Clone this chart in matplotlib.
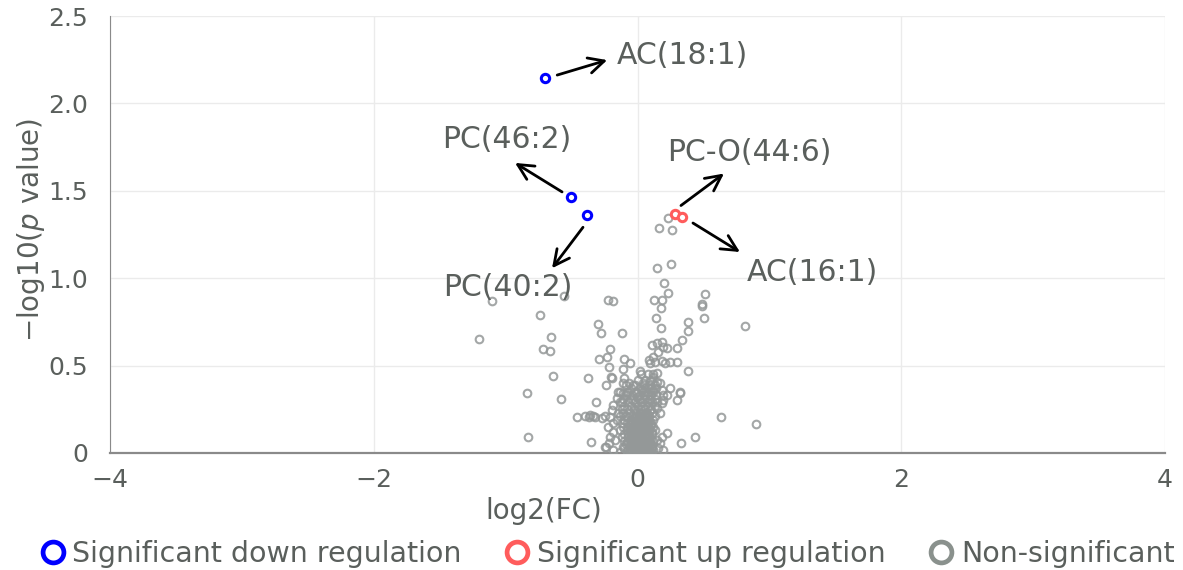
import matplotlib
matplotlib.use('Agg')
import matplotlib.pyplot as plt
from matplotlib.lines import Line2D
from matplotlib.transforms import offset_copy
from matplotlib.ticker import FuncFormatter

# significant down regulation (blue)
down_x = [-0.70, -0.504, -0.383]
down_y = [2.145, 1.465, 1.36]
down_names = ['AC(18:1)', 'PC(46:2)', 'PC(40:2)']

# significant up regulation (red)
up_x = [0.284, 0.337]
up_y = [1.37, 1.35]
up_names = ['PC-O(44:6)', 'AC(16:1)']

# non-significant (grey)
ns_x = [
	-1.20, -1.10, -0.74, -0.656, -0.716, -0.663, -0.641, -0.838, -0.58, -0.459, -0.83,
	-0.557, -0.224, -0.186, -0.30, -0.277, -0.118, -0.21, -0.23, -0.29, -0.10, -0.057,
	-0.216, -0.11, -0.375, -0.20, -0.24, -0.315, -0.368, -0.32, -0.27, -0.35, -0.246,
	0.163, 0.26, 0.23, 0.148, 0.254, 0.20, 0.23, 0.51, 0.125, 0.186, 0.178, 0.49, 0.49,
	0.504, 0.14, 0.383, 0.178, 0.383, 0.337, 0.815, 0.633, 0.90, 0.436, 0.33, 0.383, 0.32,
	-0.19, -0.10, -0.11, -0.087, -0.064, -0.034, -0.133, -0.08,
	0.11, 0.148, 0.186, 0.193, 0.224, 0.30, 0.155, 0.118, 0.087, 0.133, 0.186, 0.21,
	0.246, 0.30, 0.095, 0.019, 0.148, 0.118, 0.095, 0.042, 0.034, 0.148, 0.17, 0.186,
	0.118, 0.246, 0.224, 0.322, 0.30, 0.193, 0.095, -0.004,
	-0.398, -0.337, -0.246, -0.36, -0.148, -0.11, -0.155, -0.118, -0.186, -0.193, -0.148,
	-0.208, -0.155, -0.186, -0.224, -0.186, -0.208, -0.17, -0.216, -0.239, -0.186, -0.133,
	-0.11, -0.072, -0.034, -0.08, -0.042, -0.072, -0.019, -0.034, -0.004, 0.004, -0.057,
	0.193, 0.186, 0.148, 0.095, 0.17, 0.224, 0.186, 0.148, 0.17, 0.155, 0.193, 0.118,
	-0.08, -0.04, 0.0, 0.03, 0.06, 0.09,
	-0.10, -0.06, -0.02, 0.02, 0.05, 0.08, 0.11,
	-0.09, -0.05, -0.01, 0.03, 0.07, 0.10,
	-0.10, -0.06, -0.02, 0.01, 0.04, 0.08, 0.12,
	-0.12, -0.07, -0.03, 0.02, 0.06, 0.09,
	-0.10, -0.05, -0.01, 0.03, 0.07, 0.11,
	-0.13, -0.06, -0.02, 0.02, 0.05, 0.09, 0.13,
	-0.11, -0.07, -0.03, 0.01, 0.04, 0.08, 0.12,
	-0.12, -0.08, -0.02, 0.03, 0.07, 0.10,
	-0.10, -0.05, 0.0, 0.04, 0.08, 0.12,
	-0.13, -0.09, -0.04, 0.01, 0.05, 0.09, 0.13,
	-0.11, -0.06, -0.01, 0.03, 0.07, 0.11,
	-0.12, -0.08, -0.03, 0.02, 0.06, 0.10,
	-0.10, -0.05, 0.0, 0.04, 0.08, 0.13,
	-0.13, -0.07, -0.02, 0.03, 0.07, 0.11, 0.15,
	-0.11, -0.05, 0.01, 0.05, 0.09, 0.13,
	-0.09, -0.04, 0.02, 0.06, 0.10, 0.14,
	-0.07, -0.01, 0.04, 0.08, 0.12,
	-0.05, 0.02, 0.06, 0.10, 0.14,
	-0.02, 0.05, 0.09, 0.13,
	0.0, 0.06, 0.10,
	0.03, 0.08, 0.12,
	# dense core
	-0.06, -0.02, 0.01, 0.04, 0.07, 0.10,
	-0.07, -0.03, 0.0, 0.03, 0.06, 0.09,
	-0.05, -0.01, 0.02, 0.05, 0.08, 0.11,
	-0.08, -0.04, 0.0, 0.03, 0.06, 0.09,
	-0.06, -0.02, 0.01, 0.04, 0.07, 0.10,
	-0.07, -0.03, 0.0, 0.03, 0.06, 0.09,
	-0.05, -0.01, 0.02, 0.05, 0.08, 0.11,
	-0.08, -0.04, 0.0, 0.03, 0.06, 0.09,
	-0.06, -0.02, 0.01, 0.04, 0.07, 0.10,
	-0.04, 0.0, 0.03, 0.06, 0.09,
	-0.03, 0.01, 0.04, 0.07,
	-0.01, 0.02, 0.05, 0.08,
]
ns_y = [
	0.652, 0.87, 0.79, 0.664, 0.595, 0.584, 0.44, 0.343, 0.309, 0.206, 0.092,
	0.898, 0.875, 0.87, 0.738, 0.686, 0.686, 0.595, 0.549, 0.538, 0.538, 0.515,
	0.492, 0.48, 0.429, 0.435, 0.389, 0.292, 0.206, 0.206, 0.20, 0.063, 0.034,
	1.287, 1.276, 1.344, 1.058, 1.081, 0.973, 0.915, 0.91, 0.875, 0.875, 0.83, 0.852, 0.841,
	0.772, 0.772, 0.749, 0.715, 0.698, 0.646, 0.727, 0.206, 0.166, 0.092, 0.057, 0.469, 0.343,
	0.43, 0.43, 0.40, 0.389, 0.40, 0.389, 0.349, 0.349,
	0.618, 0.63, 0.635, 0.606, 0.60, 0.60, 0.578, 0.549, 0.532, 0.52, 0.526, 0.515,
	0.52, 0.52, 0.515, 0.469, 0.458, 0.435, 0.412, 0.40, 0.36, 0.406, 0.40, 0.36,
	0.36, 0.372, 0.332, 0.349, 0.303, 0.303, 0.303, 0.32,
	0.212, 0.212, 0.212, 0.217, 0.349, 0.343, 0.315, 0.292, 0.275, 0.246, 0.229,
	0.206, 0.189, 0.172, 0.149, 0.12, 0.092, 0.074, 0.057, 0.034, 0.017, 0.006,
	0.034, 0.057, 0.074, 0.132, 0.172, 0.206, 0.246, 0.303, 0.343, 0.017, 0.006,
	0.332, 0.286, 0.257, 0.246, 0.229, 0.114, 0.092, 0.074, 0.057, 0.029, 0.017, 0.017,
	0.01, 0.01, 0.01, 0.01, 0.01, 0.01,
	0.03, 0.03, 0.03, 0.03, 0.03, 0.03, 0.03,
	0.05, 0.05, 0.05, 0.05, 0.05, 0.05,
	0.07, 0.07, 0.07, 0.07, 0.07, 0.07, 0.07,
	0.09, 0.09, 0.09, 0.09, 0.09, 0.09,
	0.11, 0.11, 0.11, 0.11, 0.11, 0.11,
	0.13, 0.13, 0.13, 0.13, 0.13, 0.13, 0.13,
	0.15, 0.15, 0.15, 0.15, 0.15, 0.15, 0.15,
	0.17, 0.17, 0.17, 0.17, 0.17, 0.17,
	0.19, 0.19, 0.19, 0.19, 0.19, 0.19,
	0.21, 0.21, 0.21, 0.21, 0.21, 0.21, 0.21,
	0.23, 0.23, 0.23, 0.23, 0.23, 0.23,
	0.25, 0.25, 0.25, 0.25, 0.25, 0.25,
	0.27, 0.27, 0.27, 0.27, 0.27, 0.27,
	0.29, 0.29, 0.29, 0.29, 0.29, 0.29, 0.29,
	0.31, 0.31, 0.31, 0.31, 0.31, 0.31,
	0.33, 0.33, 0.33, 0.33, 0.33, 0.33,
	0.35, 0.35, 0.35, 0.35, 0.35,
	0.37, 0.37, 0.37, 0.37, 0.37,
	0.39, 0.39, 0.39, 0.39,
	0.42, 0.42, 0.42,
	0.45, 0.45, 0.45,
	# dense core
	0.0, 0.0, 0.0, 0.0, 0.0, 0.0,
	0.02, 0.02, 0.02, 0.02, 0.02, 0.02,
	0.04, 0.04, 0.04, 0.04, 0.04, 0.04,
	0.06, 0.06, 0.06, 0.06, 0.06, 0.06,
	0.08, 0.08, 0.08, 0.08, 0.08, 0.08,
	0.10, 0.10, 0.10, 0.10, 0.10, 0.10,
	0.12, 0.12, 0.12, 0.12, 0.12, 0.12,
	0.14, 0.14, 0.14, 0.14, 0.14, 0.14,
	0.16, 0.16, 0.16, 0.16, 0.16, 0.16,
	0.18, 0.18, 0.18, 0.18, 0.18,
	0.20, 0.20, 0.20, 0.20,
	0.22, 0.22, 0.22, 0.22,
]

x_ticks = [-4, -2, 0, 2, 4]
y_ticks = [0, 0.5, 1.0, 1.5, 2.0, 2.5]

# label placement in pixels relative to the point: text pos, arrow tail, arrow head
down_offsets = [((72, 23), (12, 3), (62, 18), 'left'),
				((-64, 57), (-9, 5), (-56, 34), 'center'),
				((-79, -72), (-4, -12), (-35, -53), 'center')]
up_offsets = [((74, 61), (6, 8), (49, 40), 'center'),
			  ((130, -55), (11, -6), (58, -35), 'center')]

BLUE = '#0000ff'
RED = '#ff5c5c'
GREY = '#949898'
TEXT = '#5a5f5c'


def label_points(fig, ax, xs, ys, names, offsets):
	for x, y, name, (txt, tail, head, ha) in zip(xs, ys, names, offsets):
		tr_head = offset_copy(ax.transData, fig, x=head[0], y=head[1], units='dots')
		tr_tail = offset_copy(ax.transData, fig, x=tail[0], y=tail[1], units='dots')
		tr_txt = offset_copy(ax.transData, fig, x=txt[0], y=txt[1], units='dots')
		ax.annotate('', xy=(x, y), xycoords=tr_head, xytext=(x, y), textcoords=tr_tail,
					arrowprops=dict(arrowstyle='->', color='black', lw=2,
									mutation_scale=28, shrinkA=0, shrinkB=0))
		ax.text(x, y, name, transform=tr_txt, ha=ha, va='center',
				fontsize=21.5, color=TEXT)


def main():
	fig = plt.figure(figsize=(11.83, 5.70), dpi=100)
	ax = fig.add_axes([0.093, 0.2053, 0.8918, 0.7666])

	ax.plot(ns_x, ns_y, 'o', ms=5.5, mfc='none', mec=GREY, mew=1.5, alpha=0.85, zorder=3)
	ax.plot(up_x, up_y, 'o', ms=6, mfc='white', mec=RED, mew=2.2, zorder=4)
	ax.plot(down_x, down_y, 'o', ms=6, mfc='white', mec=BLUE, mew=2.2, zorder=4)

	label_points(fig, ax, down_x, down_y, down_names, down_offsets)
	label_points(fig, ax, up_x, up_y, up_names, up_offsets)

	ax.set_xlim(-4, 4)
	ax.set_ylim(0, 2.5)
	ax.set_xticks(x_ticks)
	ax.set_yticks(y_ticks)
	ax.yaxis.set_major_formatter(FuncFormatter(lambda v, p: '0' if v == 0 else '%.1f' % v))
	ax.grid(True, color='#ebebeb', lw=1)
	ax.set_axisbelow(True)
	for s in ['top', 'right']:
		ax.spines[s].set_visible(False)
	ax.spines['left'].set_color('#8a8a8a')
	ax.spines['bottom'].set_color('#8a8a8a')
	ax.spines['bottom'].set_linewidth(1.6)
	ax.tick_params(length=0, labelsize=18, labelcolor=TEXT)
	ax.tick_params(axis='y', pad=16)
	ax.tick_params(axis='x', pad=11)

	ax.set_xlabel('log2(FC)', fontsize=20, color=TEXT)
	ax.xaxis.set_label_coords(0.411, -0.10)
	ax.set_ylabel(r'$-$log10($p$ value)', fontsize=20, color=TEXT)
	ax.yaxis.set_label_coords(-0.06, 0.51)

	handles = [
		Line2D([], [], ls='none', marker='o', ms=15, mfc='none', mec=BLUE, mew=3.4),
		Line2D([], [], ls='none', marker='o', ms=15, mfc='none', mec=RED, mew=3.4),
		Line2D([], [], ls='none', marker='o', ms=15, mfc='none', mec='#8a918d', mew=3.4),
	]
	labels = ['Significant down regulation', 'Significant up regulation', 'Non-significant']
	leg = fig.legend(handles, labels, loc='center', bbox_to_anchor=(0.514, 0.028), ncol=3,
					 frameon=False, fontsize=20.5, handlelength=0.8, handletextpad=0.3,
					 columnspacing=1.55, borderpad=0)
	for t in leg.get_texts():
		t.set_color(TEXT)

	fig.savefig('out.png', dpi=100)


if __name__ == "__main__":
	main()
